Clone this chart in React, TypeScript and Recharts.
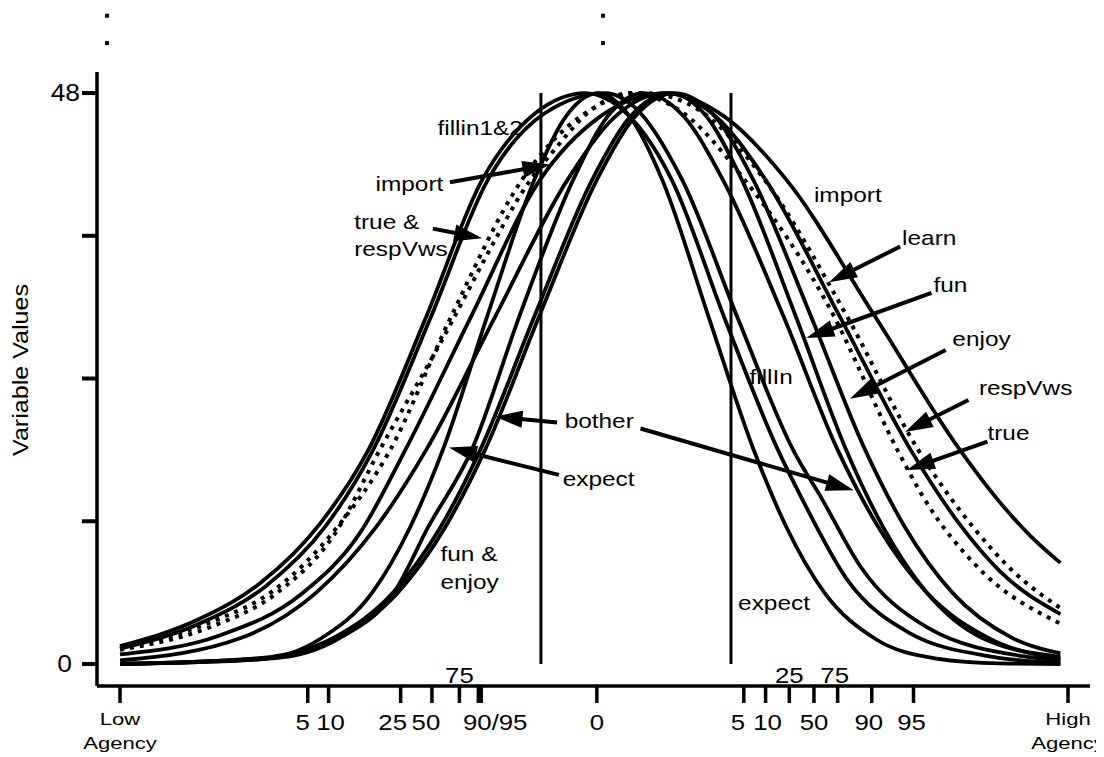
import { LineChart, Line, XAxis, YAxis, ReferenceLine, ReferenceDot } from "recharts";

const FONT = '"Liberation Sans", Arial, Helvetica, sans-serif';

// x runs from Low Agency (0) to High Agency (100); y is the variable value (0-48)
const xTicks = [0, 19.8, 22.0, 29.6, 32.9, 35.8, 37.8, 38.1, 50.3, 65.8, 68.1, 70.6, 73.2, 75.7, 79.3, 83.7, 100];
const xTickLabels = ["Low\nAgency", "5", "10", "25", "50", "75", "", "90/95", "0", "5", "10", "25", "50", "75", "90", "95", "High\nAgency"];
const yTicks = [0, 12, 24, 36, 48];
const yTickLabels = ["0", "", "", "", "48"];

// curves as [x, value] points
const expectPts = [[0, 0], [14.8, 0.4], [21.1, 2.1], [26.6, 6], [30.6, 11.5], [34.1, 18.1], [38.8, 29.4], [43.7, 40.7], [47.0, 46], [50.4, 48], [53.8, 46], [57.2, 40.7], [62.0, 29.4], [66.8, 18.1], [70.3, 11.5], [74.3, 6], [79.7, 2.1], [86.1, 0.46], [92.8, 0.05], [99.2, 0]];
const fillin1Pts = [[0, 1.5], [8.4, 3.8], [14.8, 6.8], [21.1, 11.8], [26.2, 18], [32.2, 29], [38.2, 40.7], [43.8, 46.3], [49.1, 48], [52.7, 46.8], [58.2, 40.7], [63.8, 29], [69.4, 18], [72.0, 13.8], [76.7, 7.1], [83.3, 2.6], [92.1, 0.6], [99.2, 0.05]];
const fillin2Pts = [[0, 1.3], [8.4, 3.4], [15.3, 6.5], [21.6, 11.5], [26.7, 18], [32.7, 29], [38.8, 40.7], [44.8, 46.3], [51.2, 48], [54.3, 46.8], [59.3, 40.7], [65.2, 29], [71.0, 18], [74.1, 13.8], [78.1, 8.2], [85.1, 3.1], [95.7, 0.6], [99.2, 0.3]];
const botherPts = [[0, 0], [16.4, 0.5], [23.2, 2.2], [28.9, 6], [32.5, 11.5], [37.1, 18], [42.2, 29.4], [47.8, 40.7], [51.4, 46], [55.2, 48], [59.5, 46], [63.6, 40.7], [69.9, 29.4], [75.7, 18], [80.0, 11.5], [85.1, 6], [91.6, 2.2], [99.2, 0.4]];
const funPts = [[0, 0], [14.7, 0.5], [22.5, 2.2], [28.8, 6], [33.8, 11.5], [38.0, 18], [43.8, 29.4], [49.8, 40.7], [53.8, 46], [58.0, 48], [61.9, 46], [65.6, 40.7], [71.2, 29.4], [76.6, 18], [80.5, 11.5], [85.1, 6], [90.9, 2.2], [99.2, 0.6]];
const enjoyPts = [[0, 0], [15.2, 0.5], [23.0, 2.2], [29.3, 6], [34.3, 11.5], [38.5, 18], [44.3, 29.4], [50.3, 40.7], [54.3, 46], [58.5, 48], [62.8, 46], [66.8, 40.7], [72.8, 29.4], [78.6, 18], [82.8, 11.5], [87.8, 6], [94.1, 2.2], [99.2, 0.9]];
const importPts = [[0, 0.8], [10.5, 2.4], [19.0, 5.8], [25.3, 11], [30.1, 18], [36.9, 29], [44.3, 40.7], [50.6, 46], [57.5, 48], [63.8, 46], [70.3, 40.7], [79.5, 29.4], [88.6, 18], [92.6, 13.8], [96.0, 10.8], [99.2, 8.5]];
const truePts = [[0, 1.2], [9.5, 3.1], [16.6, 6.0], [22.7, 11], [27.4, 18], [33.8, 27], [39.8, 36], [41.9, 39], [46.1, 43.5], [49.6, 46.5], [53.8, 48], [59.1, 46.5], [65.9, 40.7], [74.8, 30], [82.0, 18], [84.9, 13.8], [90.4, 8.2], [99.2, 3.4]];
const learnPts = [[0, 1.3], [9.5, 3.5], [16.4, 6.3], [22.7, 11.3], [28.5, 18], [34.8, 29], [42.4, 40.7], [48.5, 46], [55.4, 48], [61.2, 46.5], [68.0, 40.7], [76.5, 29.5], [84.2, 18], [90.0, 11.5], [94.2, 7.8], [99.2, 4.7]];
const respVwsPts = [[0, 0.3], [12.8, 2.2], [20.7, 6], [27.0, 11.5], [32.3, 18], [39.7, 29.4], [47.2, 40.7], [52.2, 46], [57.5, 48], [62.9, 46], [68.1, 40.7], [75.8, 29.4], [83.4, 18], [88.8, 11.5], [92.8, 7.8], [99.2, 4.2]];

const seriesNames = ["expect", "fillin1", "fillin2", "bother", "fun", "enjoy", "import", "true", "learn", "respVws"];
const seriesPts = [expectPts, fillin1Pts, fillin2Pts, botherPts, funPts, enjoyPts, importPts, truePts, learnPts, respVwsPts];
const dottedSeries = ["true", "learn"];

// the two vertical cut-off lines
const cutoffX = [44.4, 64.45];

// annotation texts and where they sit (baseline point)
const noteTexts = ["fillin1&2", "import", "true &", "respVws", "bother", "expect", "fun &", "enjoy",
  "import", "learn", "fun", "enjoy", "respVws", "true", "fillIn", "expect"];
const notePos = [[42.5, 44.5], [34.1, 39.8], [24.7, 36.6], [24.7, 34.3], [46.9, 19.8], [46.7, 15.0], [33.8, 8.7], [33.8, 6.3],
  [73.2, 38.8], [82.5, 35.2], [85.8, 31.3], [87.8, 26.7], [90.6, 22.6], [91.5, 18.8], [66.4, 23.5], [65.2, 4.5]];

// arrows: tail -> tip
const arrowTails = [[34.8, 40.5], [33.0, 36.6], [46.1, 20.3], [46.3, 15.9], [54.9, 19.8], [82.3, 35.1], [85.6, 31.2], [87.1, 26.4], [89.5, 22.2], [91.5, 18.7]];
const arrowTips = [[45.4, 42.0], [38.2, 35.8], [39.5, 20.8], [34.7, 18.2], [77.4, 14.6], [74.8, 32.1], [72.4, 27.4], [77.0, 22.3], [82.8, 19.5], [83.0, 16.3]];

// stray marks at the top of the figure
const markX = [-1.37, -1.37, 50.95, 50.95];
const markY = [54.5, 52.2, 54.5, 52.2];

// layout only
const noteAnchor = ["end", "end", "start", "start", "start", "start", "start", "start",
  "start", "start", "start", "start", "start", "start", "start", "start"];
const tickStyle: Record<number, { dx: number; above?: boolean }> = {
  1: { dx: -5 }, 2: { dx: 2 }, 3: { dx: -8 }, 4: { dx: -6 }, 5: { dx: 0, above: true }, 7: { dx: 14 },
  9: { dx: -6 }, 10: { dx: 2 }, 11: { dx: 0, above: true }, 13: { dx: -3, above: true }, 14: { dx: -3 }, 15: { dx: -2 },
};

const Txt = ({ x, y, children, size = 20, sx = 1.22, anchor = "start", rotate = 0 }: any) => (
  <text
    transform={`translate(${x},${y}) rotate(${rotate}) scale(${sx},1)`}
    fontSize={size}
    textAnchor={anchor}
    fontFamily={FONT}
    fill="#000"
  >
    {children}
  </text>
);

const AgencyTick = (props: any) => {
  const { x, y, payload } = props;
  const i = xTicks.indexOf(payload.value);
  const label = xTickLabels[i] || "";
  if (!label) return null;
  const st = tickStyle[i] || { dx: 0 };
  if (label.includes("\n")) {
    const [a, b] = label.split("\n");
    return (
      <g>
        <Txt x={x} y={y + 20} size={17} sx={1.3} anchor="middle">{a}</Txt>
        <Txt x={x} y={y + 44} size={17} sx={1.3} anchor="middle">{b}</Txt>
      </g>
    );
  }
  const ty = st.above ? y - 22 : y + 25;
  return <Txt x={x + st.dx} y={ty} size={23} sx={1.12} anchor="middle">{label}</Txt>;
};

const ValueTick = (props: any) => {
  const { x, y, payload } = props;
  const label = yTickLabels[yTicks.indexOf(payload.value)] || "";
  if (!label) return null;
  return <Txt x={label === "0" ? x - 8 : x} y={y + 8} size={24} sx={1.1} anchor="end">{label}</Txt>;
};

const Arrow = (p: any) => {
  const { x1, y1, x2, y2 } = p;
  const len = Math.hypot(x2 - x1, y2 - y1) || 1;
  const ux = (x2 - x1) / len;
  const uy = (y2 - y1) / len;
  const hl = 28;
  const hw = 8.5;
  const bx = x2 - ux * hl;
  const by = y2 - uy * hl;
  return (
    <g>
      <line x1={x1} y1={y1} x2={bx + ux * 2} y2={by + uy * 2} stroke="#000" strokeWidth={4} />
      <polygon points={`${x2},${y2} ${bx - uy * hw},${by + ux * hw} ${bx + uy * hw},${by - ux * hw}`} fill="#000" />
    </g>
  );
};

const toRows = (pts: number[][]) => pts.map(([u, v]) => ({ u, v }));

export default function App() {
  return (
    <div style={{ width: 1096, height: 749, fontFamily: FONT }}>
      <LineChart width={1096} height={749} margin={{ top: 64, right: 14, bottom: 11, left: 29 }}>
        <XAxis
          type="number"
          dataKey="u"
          domain={[-2.43, 102.32]}
          allowDataOverflow
          ticks={xTicks}
          interval={0}
          tickSize={17}
          height={60}
          axisLine={{ stroke: "#000", strokeWidth: 3.5 }}
          tickLine={{ stroke: "#000", strokeWidth: 3.5 }}
          tick={(p: any) => <AgencyTick {...p} />}
        />
        <YAxis
          type="number"
          domain={[-1.85, 49.77]}
          allowDataOverflow
          ticks={yTicks}
          interval={0}
          tickSize={15}
          width={60}
          axisLine={{ stroke: "#000", strokeWidth: 3.5 }}
          tickLine={{ stroke: "#000", strokeWidth: 4 }}
          tick={(p: any) => <ValueTick {...p} />}
          label={{
            content: (lp: any) => {
              const vb = lp.viewBox || { x: 29, y: 64, width: 60, height: 614 };
              return (
                <Txt x={vb.x - 9} y={vb.y + vb.height / 2 - 9} size={22} sx={1.14} anchor="middle" rotate={-90}>
                  Variable Values
                </Txt>
              );
            },
          }}
        />
        {cutoffX.map((cx) => (
          <ReferenceLine
            key={`cut-${cx}`}
            segment={[{ x: cx, y: 0 }, { x: cx, y: 48 }]}
            stroke="#000"
            strokeWidth={3}
          />
        ))}
        {seriesNames.map((name, i) => (
          <Line
            key={name}
            name={name}
            data={toRows(seriesPts[i])}
            dataKey="v"
            type="monotone"
            stroke="#000"
            strokeWidth={dottedSeries.includes(name) ? 4 : 3.8}
            strokeDasharray={dottedSeries.includes(name) ? "4 6" : undefined}
            dot={false}
            activeDot={false}
            isAnimationActive={false}
          />
        ))}
        {arrowTails.map((t, i) => (
          <ReferenceLine
            key={`arrow-${i}`}
            segment={[{ x: t[0], y: t[1] }, { x: arrowTips[i][0], y: arrowTips[i][1] }]}
            ifOverflow="visible"
            shape={(p: any) => <Arrow {...p} />}
          />
        ))}
        {noteTexts.map((txt, i) => (
          <ReferenceDot
            key={`note-${i}`}
            x={notePos[i][0]}
            y={notePos[i][1]}
            r={0}
            ifOverflow="visible"
            shape={(p: any) => <Txt x={p.cx} y={p.cy} anchor={noteAnchor[i]}>{txt}</Txt>}
          />
        ))}
        {markX.map((mx, i) => (
          <ReferenceDot
            key={`mark-${i}`}
            x={mx}
            y={markY[i]}
            r={2}
            ifOverflow="visible"
            shape={(p: any) => <rect x={p.cx - 2} y={p.cy - 2} width={4} height={4} fill="#000" />}
          />
        ))}
      </LineChart>
    </div>
  );
}
